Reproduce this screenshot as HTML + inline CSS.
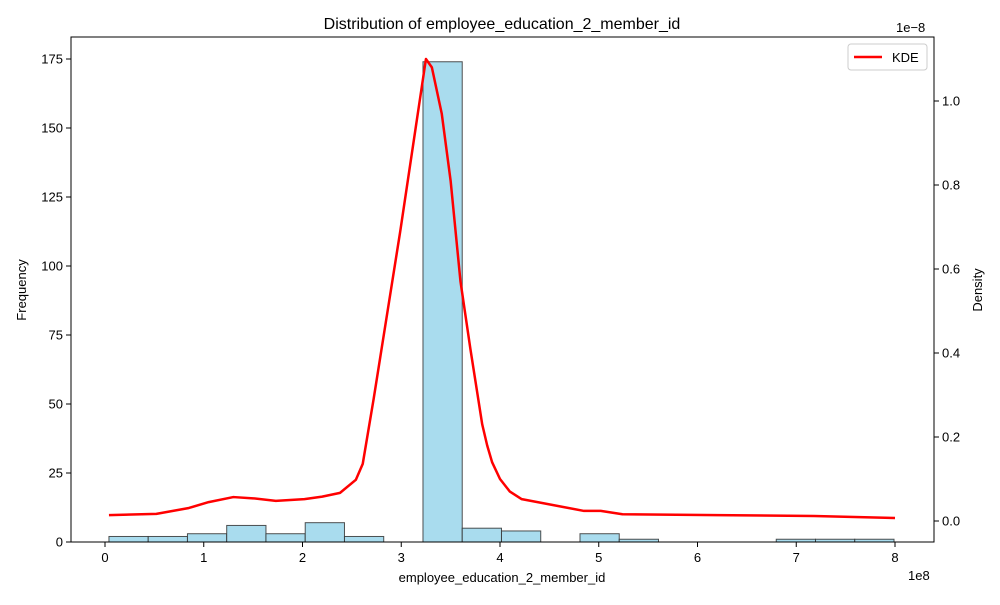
<!DOCTYPE html>
<html><head><meta charset="utf-8"><style>body{margin:0;background:#fff}svg{font-family:"Liberation Sans","DejaVu Sans",sans-serif}</style></head>
<body>
<svg id="chart" width="1000" height="600" xmlns="http://www.w3.org/2000/svg">
<rect width="1000" height="600" fill="#fff"/>
<text x="502" y="29" text-anchor="middle" font-size="16">Distribution of employee_education_2_member_id</text>
<g id="bars"></g><g id="kde"></g><g id="axes"></g>
<rect x="71" y="37" width="863" height="505" fill="none" stroke="#000" stroke-width="1"/>
<text x="502" y="582" text-anchor="middle" font-size="13">employee_education_2_member_id</text>
<text transform="translate(26,290) rotate(-90)" text-anchor="middle" font-size="13">Frequency</text>
<text transform="translate(982,290) rotate(-90)" text-anchor="middle" font-size="13">Density</text>
<text x="908" y="580" font-size="13">1e8</text>
<text x="896" y="32" font-size="13">1e−8</text>
<g>
<rect x="848" y="44" width="79" height="26" rx="3" fill="#fff" stroke="#ccc"/>
<line x1="854" y1="57" x2="882" y2="57" stroke="red" stroke-width="2.5"/>
<text x="892" y="62" font-size="13">KDE</text>
</g>
</svg>
<script>
const binStart = 0.04, binEnd = 7.99;
const counts = [2,2,3,6,3,7,2,0,174,5,4,0,3,1,0,0,0,1,1,1];
const kdeX = [0.04,0.52,0.85,1.05,1.3,1.5,1.73,2.02,2.2,2.38,2.54,2.61,2.72,2.99,3.25,3.31,3.41,3.5,3.6,3.7,3.82,3.87,3.92,4.0,4.1,4.22,4.85,5.02,5.24,6.2,7.18,8.0];
const kdeY = [0.014,0.017,0.031,0.045,0.057,0.054,0.048,0.052,0.058,0.067,0.098,0.136,0.29,0.69,1.1,1.08,0.97,0.81,0.57,0.41,0.23,0.18,0.14,0.10,0.07,0.052,0.024,0.024,0.016,0.014,0.012,0.007];
const xTicks = [0,1,2,3,4,5,6,7,8];
const yTicks = [0,25,50,75,100,125,150,175];
const y2Ticks = [0.0,0.2,0.4,0.6,0.8,1.0];
const NS="http://www.w3.org/2000/svg";
const xs = v => 105 + v*98.75;
const ys = v => 542 - v*2.76;
const y2s = v => 521 - v*420;
function mk(tag, attrs, parent){const e=document.createElementNS(NS,tag);for(const k in attrs)e.setAttribute(k,attrs[k]);parent.appendChild(e);return e;}
const bars=document.getElementById('bars');
const w=(binEnd-binStart)/counts.length;
counts.forEach((c,i)=>{
  if(c<=0)return;
  const x0=xs(binStart+i*w), x1=xs(binStart+(i+1)*w);
  const r=mk('rect',{x:x0,y:ys(c),width:x1-x0,height:ys(0)-ys(c),fill:'#a9dcee',stroke:'#333',"stroke-opacity":0.85,"stroke-width":1},bars);
  
  
});
const kde=document.getElementById('kde');
const p=mk('polyline',{points:kdeX.map((x,i)=>xs(x)+','+y2s(kdeY[i])).join(' '),fill:'none',stroke:'red',"stroke-width":2.5,"stroke-linejoin":"round"},kde);


const ax=document.getElementById('axes');
xTicks.forEach(t=>{
  mk('line',{x1:xs(t),x2:xs(t),y1:542,y2:547,stroke:'#000'},ax);
  const tx=mk('text',{x:xs(t),y:562,"text-anchor":"middle","font-size":13},ax);tx.textContent=t;
  
  
});
yTicks.forEach(t=>{
  mk('line',{x1:66,x2:71,y1:ys(t),y2:ys(t),stroke:'#000'},ax);
  const tx=mk('text',{x:63,y:ys(t)+4.5,"text-anchor":"end","font-size":13},ax);tx.textContent=t;
  
  
});
y2Ticks.forEach(t=>{
  mk('line',{x1:934,x2:939,y1:y2s(t),y2:y2s(t),stroke:'#000'},ax);
  const tx=mk('text',{x:942,y:y2s(t)+4.5,"font-size":13},ax);tx.textContent=t.toFixed(1);
  
  
});
</script>
</body></html>
